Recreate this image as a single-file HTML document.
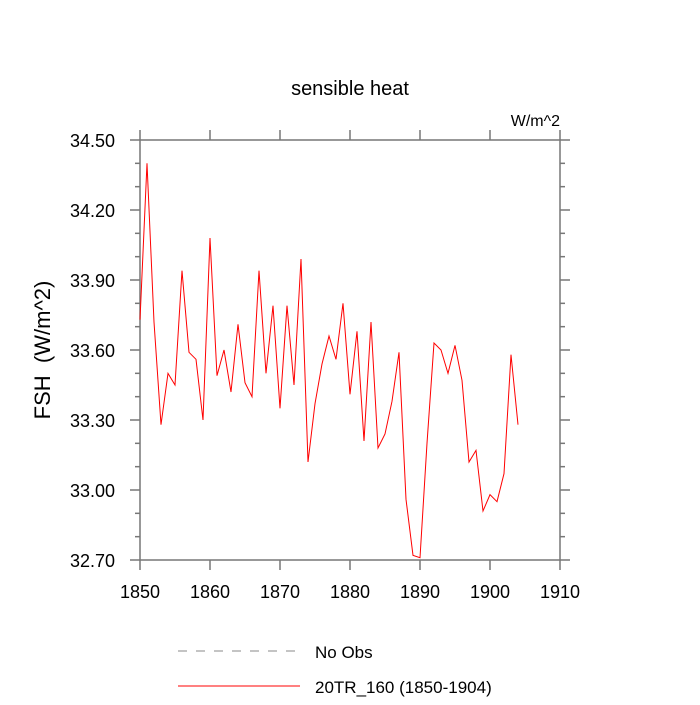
<!DOCTYPE html>
<html><head><meta charset="utf-8"><style>
body{margin:0;background:#fff;}
svg text{font-family:"Liberation Sans",sans-serif;}
</style></head><body>
<svg id="chart" width="700" height="700" viewBox="0 0 700 700" xmlns="http://www.w3.org/2000/svg">
<text x="350" y="95" font-size="20" text-anchor="middle">sensible heat</text>
<text x="560" y="126" font-size="16" text-anchor="end">W/m^2</text>
<text transform="translate(50,350) rotate(-90)" font-size="22" text-anchor="middle">FSH&#160;&#160;(W/m^2)</text>
<g id="axes"></g>
<g id="series"></g>
<g>
<line x1="178" y1="651" x2="300" y2="651" stroke="#888" stroke-width="1" stroke-dasharray="9,9"/>
<text x="315" y="658" font-size="17">No Obs</text>
<line x1="178" y1="686" x2="300" y2="686" stroke="#f00" stroke-width="1"/>
<text x="315" y="693" font-size="17">20TR_160 (1850-1904)</text>
</g>
</svg>
<script>
const years=[1850,1851,1852,1853,1854,1855,1856,1857,1858,1859,1860,1861,1862,1863,1864,1865,1866,1867,1868,1869,1870,1871,1872,1873,1874,1875,1876,1877,1878,1879,1880,1881,1882,1883,1884,1885,1886,1887,1888,1889,1890,1891,1892,1893,1894,1895,1896,1897,1898,1899,1900,1901,1902,1903,1904];
const fsh=[33.73,34.40,33.72,33.28,33.50,33.45,33.94,33.59,33.56,33.30,34.08,33.49,33.60,33.42,33.71,33.46,33.40,33.94,33.50,33.79,33.35,33.79,33.45,33.99,33.12,33.37,33.54,33.66,33.56,33.80,33.41,33.68,33.21,33.72,33.18,33.24,33.38,33.59,32.96,32.72,32.71,33.20,33.63,33.60,33.50,33.62,33.47,33.12,33.17,32.91,32.98,32.95,33.07,33.58,33.28];
const xTicks=[1850,1860,1870,1880,1890,1900,1910];
const yTicks=[32.70,33.00,33.30,33.60,33.90,34.20,34.50];
const yMinor=[32.8,32.9,33.1,33.2,33.4,33.5,33.7,33.8,34.0,34.1,34.3,34.4];
const L=140,R=560,T=140,B=560;
const xs=v=>L+(v-1850)/60*(R-L);
const ys=v=>B-(v-32.7)/1.8*(B-T);
const NS="http://www.w3.org/2000/svg";
const ax=document.getElementById('axes');
function ln(x1,y1,x2,y2,name){const e=document.createElementNS(NS,'line');
e.setAttribute('x1',x1);e.setAttribute('y1',y1);e.setAttribute('x2',x2);e.setAttribute('y2',y2);
e.setAttribute('stroke','#777');e.setAttribute('stroke-width','1.5');


ax.appendChild(e);}
function tx(x,y,s,anchor,name){const e=document.createElementNS(NS,'text');
e.setAttribute('x',x);e.setAttribute('y',y);e.setAttribute('font-size','18');e.setAttribute('text-anchor',anchor);e.textContent=s;


ax.appendChild(e);}
const fr=document.createElementNS(NS,'rect');
fr.setAttribute('x',L);fr.setAttribute('y',T);fr.setAttribute('width',R-L);fr.setAttribute('height',B-T);
fr.setAttribute('fill','none');fr.setAttribute('stroke','#777');fr.setAttribute('stroke-width','1.5');


ax.appendChild(fr);
xTicks.forEach(t=>{const x=xs(t);ln(x,B,x,B+10,'x-tick');ln(x,T,x,T-10,'x-tick-top');tx(x,B+38,String(t),'middle','x-tick-label');});
yTicks.forEach(t=>{const y=ys(t);ln(L-10,y,L,y,'y-tick');ln(R,y,R+10,y,'y-tick-right');tx(L-25,y+7,t.toFixed(2),'end','y-tick-label');});
yMinor.forEach(t=>{const y=ys(t);ln(L-5,y,L,y,'y-minor-tick');ln(R,y,R+5,y,'y-minor-tick-right');});
const p=document.createElementNS(NS,'polyline');
p.setAttribute('points',years.map((y,i)=>xs(y)+','+ys(fsh[i])).join(' '));
p.setAttribute('fill','none');p.setAttribute('stroke','#f00');p.setAttribute('stroke-width','1');


document.getElementById('series').appendChild(p);
</script>
</body></html>
